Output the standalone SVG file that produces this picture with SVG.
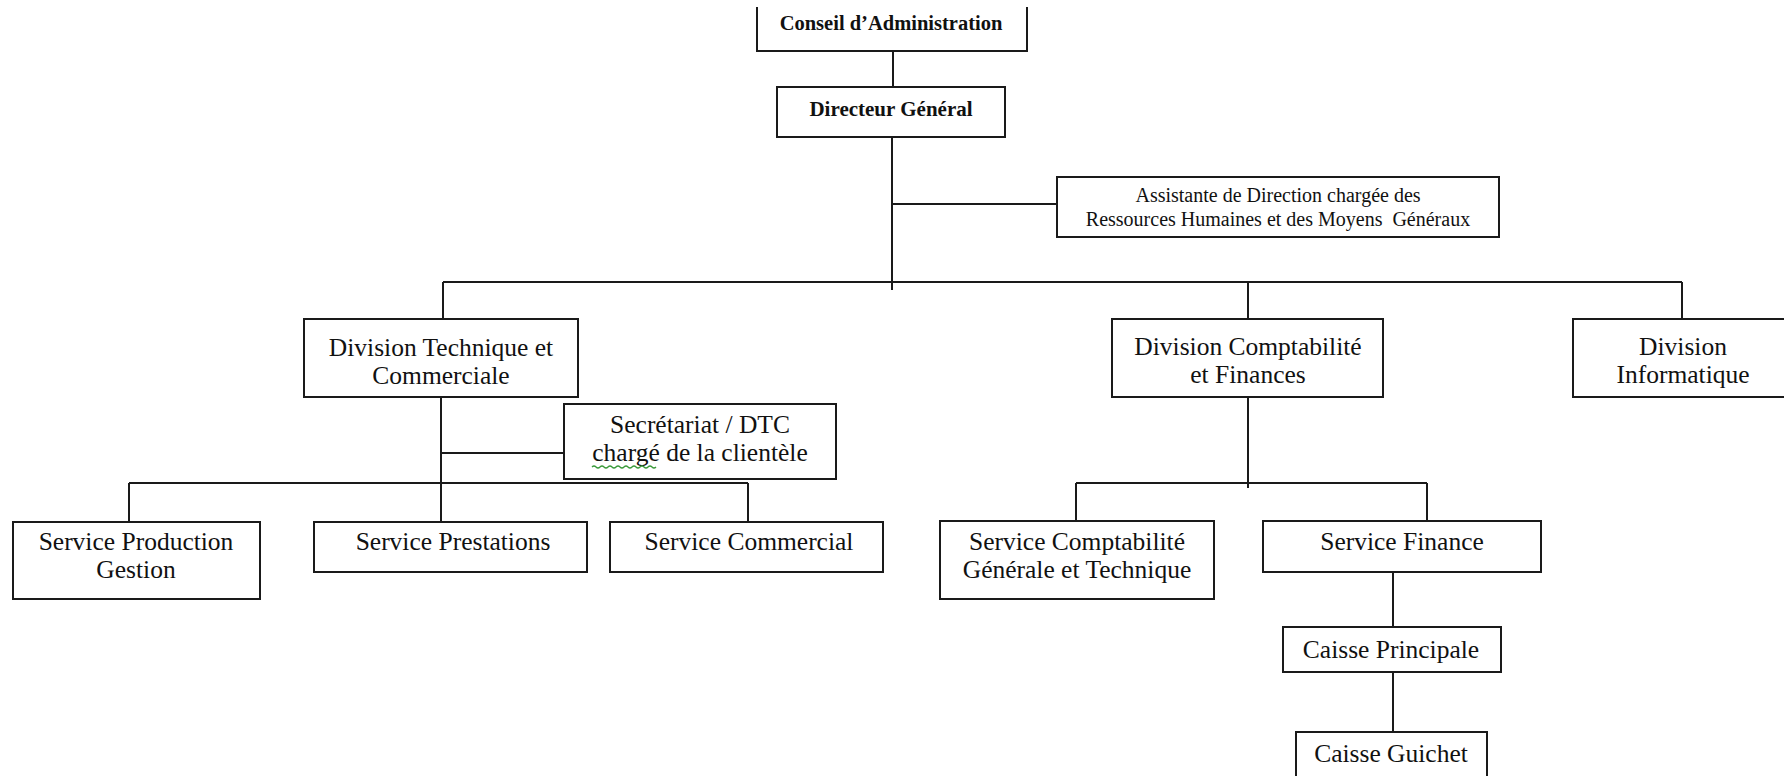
<svg xmlns="http://www.w3.org/2000/svg" width="1784" height="776" viewBox="0 0 1784 776">
<style>
.box{fill:#fff;stroke:#1a1a1a;stroke-width:2}
.ln{fill:none;stroke:#1a1a1a;stroke-width:2}
text{font-family:"Liberation Serif","Times New Roman",serif;fill:#111;text-anchor:middle}
.b{font-weight:bold;font-size:20.5px}
.s{font-size:20px}
.m{font-size:25.5px}
</style>
<rect width="1784" height="776" fill="#fff"/>
<g id="connectors">
<path class="ln" d="M893,51V87"/>
<path class="ln" d="M892,137V290"/>
<path class="ln" d="M892,204H1057"/>
<path class="ln" d="M443,282H1682"/>
<path class="ln" d="M443,282V319M1248,282V319M1682,282V319"/>
<path class="ln" d="M441,397V522"/>
<path class="ln" d="M441,453H564"/>
<path class="ln" d="M129,483H748M129,483V522M748,483V522"/>
<path class="ln" d="M1248,397V488"/>
<path class="ln" d="M1076,483H1427M1076,483V521M1427,483V521"/>
<path class="ln" d="M1393,572V627"/>
<path class="ln" d="M1393,672V732"/>
</g>
<g id="conseil">
<path class="box" d="M757,7V51H1027V7"/>
<text class="b" x="891" y="30">Conseil d’Administration</text>
</g>
<g id="directeur">
<rect class="box" x="777" y="87" width="228" height="50"/>
<text class="b" x="891" y="116" style="font-size:21px">Directeur Général</text>
</g>
<g id="assistante">
<rect class="box" x="1057" y="177" width="442" height="60"/>
<text class="s" x="1278" y="202">Assistante de Direction chargée des</text>
<text class="s" x="1278" y="226" xml:space="preserve">Ressources Humaines et des Moyens  Généraux</text>
</g>
<g id="div-tech">
<rect class="box" x="304" y="319" width="274" height="78"/>
<text class="m" x="441" y="356">Division Technique et</text>
<text class="m" x="441" y="384">Commerciale</text>
</g>
<g id="secretariat">
<rect class="box" x="564" y="404" width="272" height="75"/>
<text class="m" x="700" y="433">Secrétariat / DTC</text>
<text class="m" x="700" y="461">chargé de la clientèle</text>
<path d="M592,467q2,-2 4,0t4,0t4,0t4,0t4,0t4,0t4,0t4,0t4,0t4,0t4,0t4,0t4,0t4,0t4,0t4,0" fill="none" stroke="#3a9a3a" stroke-width="1.3"/>
</g>
<g id="div-compta">
<rect class="box" x="1112" y="319" width="271" height="78"/>
<text class="m" x="1248" y="355">Division Comptabilité</text>
<text class="m" x="1248" y="383">et Finances</text>
</g>
<g id="div-info">
<rect class="box" x="1573" y="319" width="220" height="78"/>
<text class="m" x="1683" y="355">Division</text>
<text class="m" x="1683" y="383">Informatique</text>
</g>
<g id="svc-production">
<rect class="box" x="13" y="522" width="247" height="77"/>
<text class="m" x="136" y="550">Service Production</text>
<text class="m" x="136" y="578">Gestion</text>
</g>
<g id="svc-prestations">
<rect class="box" x="314" y="522" width="273" height="50"/>
<text class="m" x="453" y="550">Service Prestations</text>
</g>
<g id="svc-commercial">
<rect class="box" x="610" y="522" width="273" height="50"/>
<text class="m" x="749" y="550">Service Commercial</text>
</g>
<g id="svc-compta">
<rect class="box" x="940" y="521" width="274" height="78"/>
<text class="m" x="1077" y="550">Service Comptabilité</text>
<text class="m" x="1077" y="578">Générale et Technique</text>
</g>
<g id="svc-finance">
<rect class="box" x="1263" y="521" width="278" height="51"/>
<text class="m" x="1402" y="550">Service Finance</text>
</g>
<g id="caisse-principale">
<rect class="box" x="1283" y="627" width="218" height="45"/>
<text class="m" x="1391" y="658">Caisse Principale</text>
</g>
<g id="caisse-guichet">
<rect class="box" x="1296" y="732" width="191" height="60"/>
<text class="m" x="1391" y="762">Caisse Guichet</text>
</g>
</svg>
